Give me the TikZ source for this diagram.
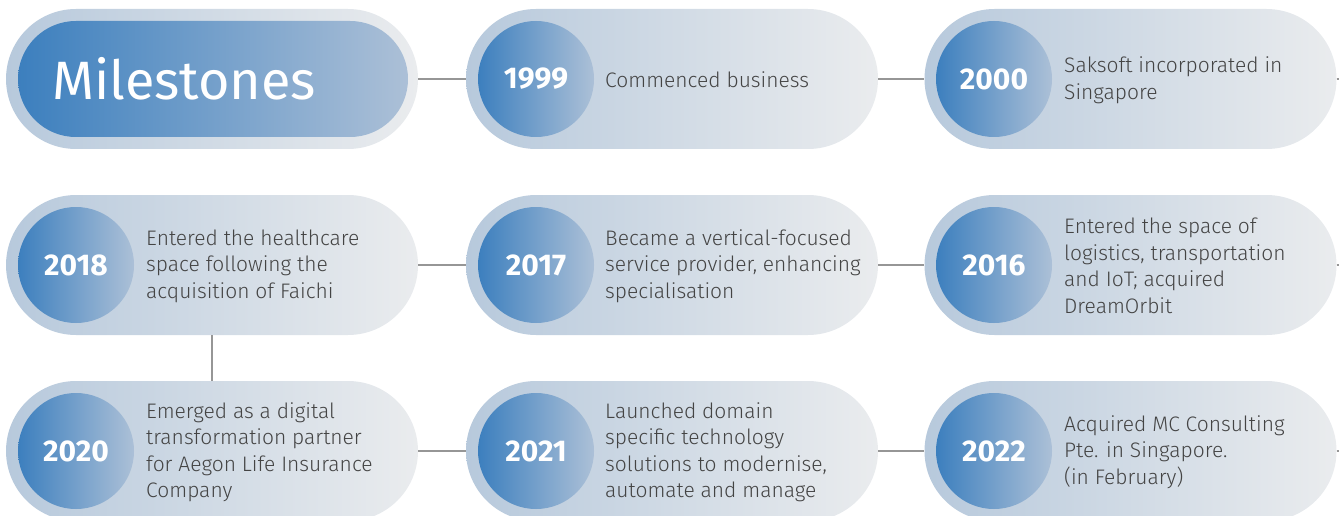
\documentclass[tikz,border=0pt]{standalone}
\usepackage{fontspec}
\setmainfont{Fira Sans}[UprightFont=* Light, BoldFont=* Bold]
\newfontfamily\headfont{Fira Sans}
\usepackage{tikz}
\usetikzlibrary{positioning}
\definecolor{pillL}{RGB}{183,201,220}
\definecolor{pillR}{RGB}{234,236,238}
\definecolor{yearL}{RGB}{60,127,190}
\definecolor{yearR}{RGB}{172,192,215}
\definecolor{txtgray}{RGB}{68,68,68}
\definecolor{linegray}{RGB}{150,150,150}

\begin{document}
\begin{tikzpicture}[x=1pt,y=-1pt,
    pill/.style={rectangle,rounded corners=70pt,minimum width=412pt,minimum height=140pt,
                 inner sep=0pt,left color=pillL,right color=pillR},
    yearball/.style={circle,minimum size=116pt,inner sep=0pt,left color=yearL,right color=yearR,
                 text=white,font=\bfseries\fontsize{30}{30}\selectfont},
    desc/.style={anchor=west,align=left,inner sep=0pt,text=txtgray,
                 font=\fontsize{21}{26.5}\selectfont},
    link/.style={draw=linegray,line width=1.5pt}]
\useasboundingbox (0,0) rectangle (1339,516);
\clip (0,0) rectangle (1339,516);

\begin{scope}[every node/.style={pill}]
    \node (P0) at (212,79) {};
    \node (P1999) at (672,79) {};
    \node (P2000) at (1130.5,79) {};
    
    \node (P2018) at (212,265) {};
    \node (P2017) at (672,265) {};
    \node (P2016) at (1130.5,265) {};
    
    \node (P2020) at (212,451) {};
    \node (P2021) at (672,451) {};
    \node (P2022) at (1130.5,451) {};
\end{scope}

% title pill
\node (Mil) [rectangle,rounded corners=58pt,minimum width=390pt,minimum height=116pt,
             left color=yearL,right color=yearR] at (213,79) {};
\node (MilT) [anchor=west,inner sep=0pt,text=white,font=\headfont\fontsize{54}{54}\selectfont]
     at (52,79) {Milestones};

\coordinate (E1) at (1339,79);
\coordinate (E2) at (1339,265);
\coordinate (E3) at (1339,451);

\begin{scope}[every path/.style={link}]
     \draw (P0.east) -- (P1999.west);
     \draw (P1999.east) -- (P2000.west);
     \draw (P2000.east) -- (E1);
     
     \draw (P2018.east) -- (P2017.west);
     \draw (P2017.east) -- (P2016.west);
     \draw (P2016.east) -- (E2);
     
     \draw (P2018.south) -- (P2020.north);
     
     \draw (P2020.east) -- (P2021.west);
     \draw (P2021.east) -- (P2022.west);
     \draw (P2022.east) -- (E3);
\end{scope}

\begin{scope}[every node/.style={yearball}]
    \node (Y1999) at (536,79) {1999};
    \node (Y2000) at (994,79) {2000};
    
    \node (Y2018) at (76,265) {2018};
    \node (Y2017) at (536,265) {2017};
    \node (Y2016) at (994,265) {2016};
    
    \node (Y2020) at (76,451) {2020};
    \node (Y2021) at (536,451) {2021};
    \node (Y2022) at (994,451) {2022};
\end{scope}

\begin{scope}[every node/.style={desc}]
    \node (T1999) at (605,80) {Commenced business};
    \node (T2000) at (1064,80) {Saksoft incorporated in\\Singapore};
    
    \node (T2018) at (146,266) {Entered the healthcare\\space following the\\acquisition of Faichi};
    \node (T2017) at (605,266) {Became a vertical-focused\\service provider, enhancing\\specialisation};
    \node (T2016) at (1064,266) {Entered the space of\\logistics, transportation\\and IoT; acquired\\DreamOrbit};
    
    \node (T2020) at (146,452) {Emerged as a digital\\transformation partner\\for Aegon Life Insurance\\Company};
    \node (T2021) at (605,452) {Launched domain\\specific technology\\solutions to modernise,\\automate and manage};
    \node (T2022) at (1064,452) {Acquired MC Consulting\\Pte. in Singapore.\\(in February)};
\end{scope}
\end{tikzpicture}
\end{document}
